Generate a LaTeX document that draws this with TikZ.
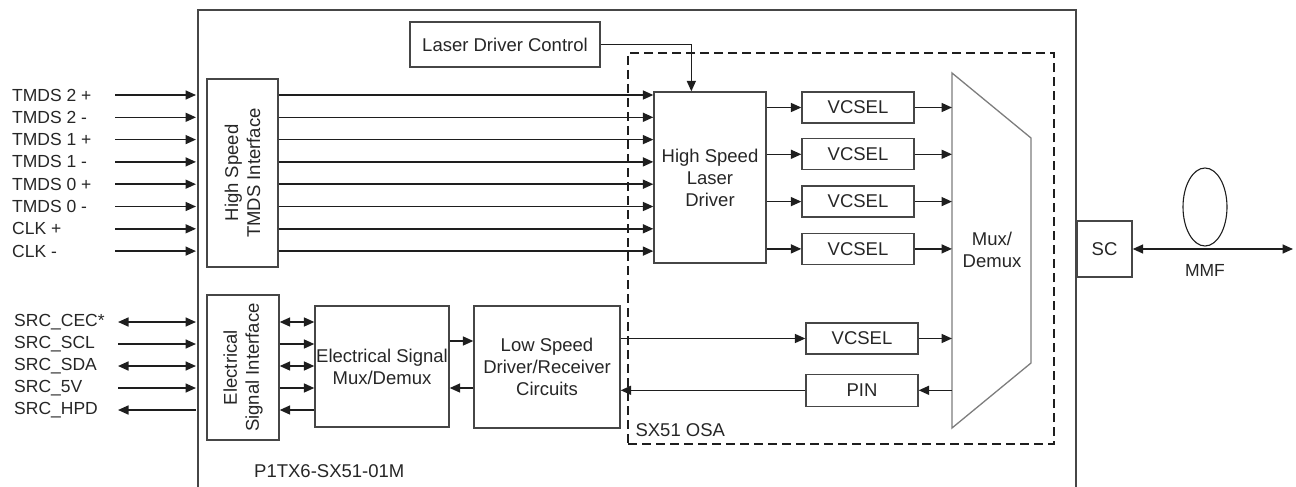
\documentclass[tikz,border=0pt]{standalone}
\usepackage{fontspec}
\setmainfont{Liberation Sans}
\usetikzlibrary{positioning, arrows.meta, shapes.geometric}
\definecolor{wire}{RGB}{30,30,30}
\definecolor{frame}{RGB}{70,70,70}
\definecolor{optic}{RGB}{125,125,125}

\begin{document}
\begin{tikzpicture}[
    x=1pt, y=-1pt,
    >={Triangle[length=10.5pt,width=9pt]},
    block/.style={draw=frame, line width=1.3pt, inner sep=0pt, align=center,
                  text=black!85, font=\fontsize{18.5}{22}\selectfont},
    arr/.style={->, line width=1.6pt, draw=wire},
    lbl/.style={font=\fontsize{17.5}{20}\selectfont, text=black!85,
                inner sep=0pt},
]
\useasboundingbox (0,0) rectangle (1296,487);

% ==============================
%  Module frame (open at bottom)
% ==============================
\draw[frame, line width=1.3pt] (198,487) -- (198,10) -- (1076,10) -- (1076,487);
\coordinate (frameL) at (196,0);
\node[lbl, font=\fontsize{18.5}{22}\selectfont, anchor=base west] (partno) at (254,477)
    {P1TX6-SX51-01M};

% Optical sub-assembly (dashed)
\node[draw=wire, line width=1.3pt, dash pattern=on 9pt off 5pt,
      minimum width=426pt, minimum height=391pt, inner sep=0pt] (osa) at (841,248.5) {};
\node[lbl, font=\fontsize{18.5}{22}\selectfont, anchor=base west, xshift=8pt, yshift=8pt]
    (osalbl) at (osa.south west) {SX51 OSA};

% ==============================
%  Blocks
% ==============================
\node[block, rotate=90, minimum width=188pt, minimum height=71pt] (hsti) at (242.5,173)
    {High Speed\\TMDS Interface};
\node[block, rotate=90, minimum width=145pt, minimum height=72pt] (esi) at (243,367.5)
    {Electrical\\Signal Interface};
\node[block, minimum width=134pt, minimum height=121pt] (esm) at (382,366.5)
    {Electrical Signal\\Mux/Demux};
\node[block, minimum width=146pt, minimum height=122pt] (ls) at (547,367)
    {Low Speed\\Driver/Receiver\\Circuits};
\node[block, minimum width=190pt, minimum height=45pt] (ldc) at (505,44.5)
    {Laser Driver Control};
\node[block, minimum width=112pt, minimum height=171pt] (hsld) at (710,177.5)
    {High Speed\\Laser\\Driver};

% VCSEL column
\node[block, minimum width=112pt, minimum height=31pt] (vcsel1) at (858,107.5) {VCSEL};
\node[block, minimum width=112pt, minimum height=31pt, below=14.5pt of vcsel1] (vcsel2) {VCSEL};
\node[block, minimum width=112pt, minimum height=31pt, below=15pt of vcsel2] (vcsel3) {VCSEL};
\node[block, minimum width=112pt, minimum height=31pt, below=15pt of vcsel3] (vcsel4) {VCSEL};

\node[block, minimum width=112pt, minimum height=31pt] (vcsel5) at (862,338.5) {VCSEL};
\node[block, minimum width=112pt, minimum height=32pt, below=19pt of vcsel5] (pin) {PIN};

% Mux/Demux wedge
\draw[optic, line width=1.3pt] (952,73) -- (1031,138) -- (1031,363) -- (952,428) -- cycle;
\node[lbl, align=center, font=\fontsize{18.5}{22}\selectfont] (mux) at (992,250) {Mux/\\Demux};
\coordinate (muxin) at (952,250);

% Connector + fibre
\node[block, minimum width=55pt, minimum height=56pt] (sc) at (1104.5,249) {SC};
\node[draw=wire, line width=1.1pt, ellipse, minimum width=44pt, minimum height=78pt,
      inner sep=0pt] (loop) at (1205,207) {};
\coordinate (fiberend) at (1293,249);
\node[lbl] (mmf) at (1205,270) {MMF};

% ==============================
%  Inputs
% ==============================
\foreach \lab [count=\i] in {TMDS 2 +, TMDS 2 -, TMDS 1 +, TMDS 1 -,
                             TMDS 0 +, TMDS 0 -, CLK +, CLK -}{
  \node[lbl, anchor=west] (tlab\i) at (12,{95+22.3*(\i-1)}) {\lab};
  \coordinate (tin\i) at (115,{95+22.3*(\i-1)});
  \draw[arr] (tin\i) -- (tin\i -| frameL);
  \draw[arr] (hsti.south |- tin\i) -- (hsld.west |- tin\i);
}

\foreach \lab/\tip [count=\i] in {SRC\_CEC*/<->, SRC\_SCL/->, SRC\_SDA/<->,
                                  SRC\_5V/->, SRC\_HPD/<-}{
  \node[lbl, anchor=west] (slab\i) at (14,{322+22*(\i-1)}) {\lab};
  \coordinate (sin\i) at (118,{322+22*(\i-1)});
  \draw[arr, \tip] (sin\i) -- (sin\i -| frameL);
  \draw[arr, \tip] (esi.south |- sin\i) -- (esm.west |- sin\i);
}

% ==============================
%  Arrows
% ==============================
\draw[arr] (ldc.east) -| ([xshift=38pt]hsld.north west);

\foreach \v in {1,2,3,4}{
  \draw[arr] (hsld.east |- vcsel\v.west) -- (vcsel\v.west);
  \draw[arr] (vcsel\v.east) -- (vcsel\v.east -| muxin);
}

\draw[arr] ([yshift=25.5pt]esm.east) -- ([yshift=25.5pt]esm.east -| ls.west);
\draw[arr] ([yshift=-21pt]ls.west) -- ([yshift=-21pt]ls.west -| esm.east);
\draw[arr] (ls.east |- vcsel5.west) -- (vcsel5.west);
\draw[arr] (pin.west) -- (pin.west -| ls.east);
\draw[arr] (vcsel5.east) -- (vcsel5.east -| muxin);
\draw[arr] (pin.east -| muxin) -- (pin.east);

\draw[arr, <->] (sc.east) -- (fiberend);

\end{tikzpicture}
\end{document}
